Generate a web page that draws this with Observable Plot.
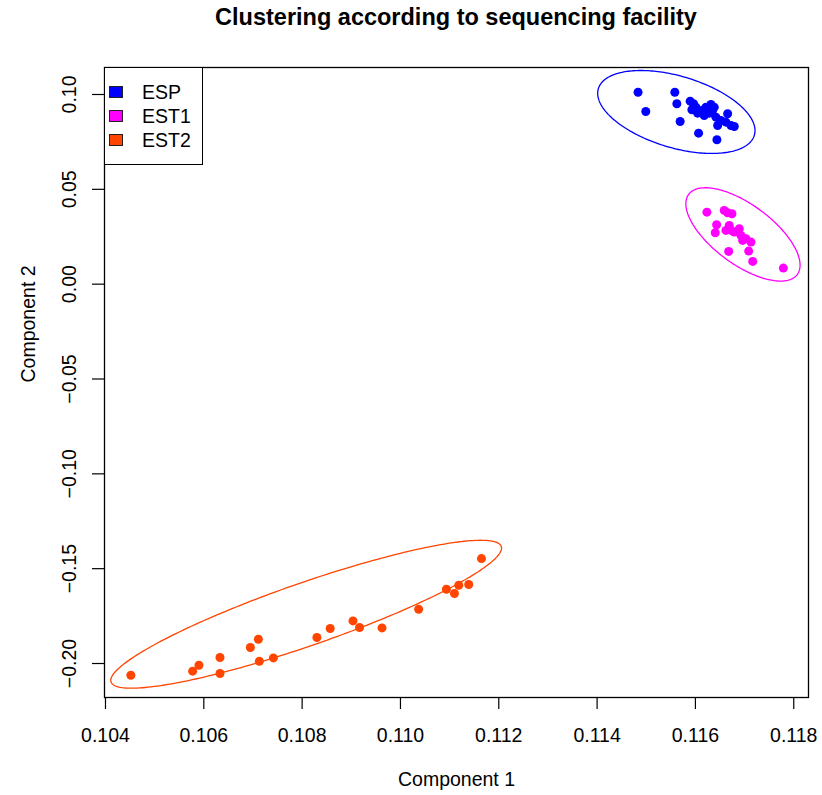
<!DOCTYPE html>
<html><head><meta charset="utf-8">
<script src="https://cdn.jsdelivr.net/npm/d3@7"></script>
<script src="https://cdn.jsdelivr.net/npm/@observablehq/plot@0.6"></script>
<style>
body{margin:0;background:#fff;font-family:"Liberation Sans",Arial,sans-serif;}
#wrap{position:relative;width:822px;height:795px;overflow:hidden;}
#title{height:36px;line-height:35px;margin-left:104px;width:704px;text-align:center;font-weight:bold;font-size:23.5px;color:#000;}
#legend{position:absolute;left:104px;top:67px;width:99px;height:98px;border:1.3px solid #000;box-sizing:border-box;background:#fff;padding-top:12px;}
.row{height:24px;display:flex;align-items:center;font-size:19.5px;color:#000;}
.sw{width:14px;height:12px;margin-left:4px;margin-right:19px;border:1px solid #222;box-sizing:border-box;}
</style></head>
<body><div id="wrap"><div id="title"></div><div id="chart"></div><div id="legend"></div></div>
<script>
const titleText = "Clustering according to sequencing facility";
const xLabel = "Component 1";
const yLabel = "Component 2";
const groups = ["ESP", "EST1", "EST2"];
const colors = ["#0000ff", "#ff00ff", "#ff4500"];
const xTicks = [0.104, 0.106, 0.108, 0.110, 0.112, 0.114, 0.116, 0.118];
const yTicks = [-0.20, -0.15, -0.10, -0.05, 0.00, 0.05, 0.10];
const xDomain = [0.10398, 0.11830];
const yDomain = [-0.21792, 0.11423];

const espX = [0.114833, 0.114990, 0.115581, 0.115622, 0.115689, 0.116064, 0.116437, 0.116655, 0.115893, 0.115962, 0.116010, 0.115928, 0.116044, 0.116132, 0.116213, 0.116315, 0.116382, 0.116350, 0.116281, 0.116178, 0.116417, 0.116519, 0.116452, 0.116621, 0.116723, 0.116790];
const espY = [0.10121, 0.09104, 0.10121, 0.09510, 0.08577, 0.07961, 0.07613, 0.08983, 0.09647, 0.09510, 0.09331, 0.09194, 0.09015, 0.09157, 0.09331, 0.09473, 0.09331, 0.09157, 0.09015, 0.08893, 0.08804, 0.08630, 0.08366, 0.08540, 0.08366, 0.08314];
const est1X = [0.116233, 0.116586, 0.116655, 0.116743, 0.116431, 0.116403, 0.116621, 0.116688, 0.116723, 0.116790, 0.116892, 0.116926, 0.117028, 0.117130, 0.116961, 0.116676, 0.117083, 0.117165, 0.117789];
const est1Y = [0.03798, 0.03887, 0.03766, 0.03713, 0.03134, 0.02712, 0.02833, 0.03097, 0.02833, 0.02744, 0.02923, 0.02570, 0.02396, 0.02217, 0.02306, 0.01727, 0.01743, 0.01200, 0.00847];
const est2X = [0.104516, 0.105773, 0.105901, 0.106329, 0.106329, 0.106947, 0.107110, 0.107130, 0.107416, 0.108300, 0.108571, 0.109034, 0.109168, 0.109625, 0.110370, 0.110935, 0.111098, 0.111186, 0.111389, 0.111648];
const est2Y = [-0.20616, -0.20405, -0.20089, -0.19684, -0.20527, -0.19157, -0.18719, -0.19878, -0.19704, -0.18630, -0.18155, -0.17755, -0.18103, -0.18124, -0.17138, -0.16084, -0.16311, -0.15873, -0.15837, -0.14467];

// cluster ellipses: centre, half-extent in x and y, and x-y correlation (data units)
const ellCx = [0.115612, 0.116967, 0.108082];
const ellCy = [0.090778, 0.026226, -0.174016];
const ellRx = [0.0016000, 0.0011616, 0.0039740];
const ellRy = [0.021869, 0.024609, 0.038995];
const ellRho = [-0.45, -0.657, 0.894];

const seriesX = [espX, est1X, est2X];
const seriesY = [espY, est1Y, est2Y];

const points = [];
groups.forEach((g, k) => seriesX[k].forEach((x, i) => points.push({group: g, x, y: seriesY[k][i]})));

const ellipses = [];
groups.forEach((g, k) => {
  const s = Math.sqrt(1 - ellRho[k] * ellRho[k]);
  d3.range(0, 241).forEach(j => {
    const t = j / 240 * 2 * Math.PI;
    ellipses.push({
      group: g,
      x: ellCx[k] + ellRx[k] * Math.cos(t),
      y: ellCy[k] + ellRy[k] * (ellRho[k] * Math.cos(t) + s * Math.sin(t))
    });
  });
});

document.getElementById("title").textContent = titleText;

const plot = Plot.plot({
  width: 822, height: 759,
  marginLeft: 104, marginRight: 14, marginTop: 31, marginBottom: 98,
  style: {fontFamily: "'Liberation Sans', Arial, sans-serif", fontSize: "19.5px", color: "#000", background: "#fff", overflow: "visible"},
  x: {domain: xDomain},
  y: {domain: yDomain},
  color: {domain: groups, range: colors},
  marks: [
    Plot.frame({stroke: "#000", strokeWidth: 1.3}),
    Plot.axisX(xTicks, {tickSize: 12, tickPadding: 18.5, tickFormat: d3.format(".3f"), label: null, strokeWidth: 1.2}),
    Plot.axisY(yTicks, {tickSize: 12, tickPadding: 17, tickRotate: -90, tickFormat: d3.format(".2f"), label: null, strokeWidth: 1.2}),
    Plot.line(ellipses, {x: "x", y: "y", z: "group", stroke: "group", strokeWidth: 1.3, curve: "linear"}),
    Plot.dot(points, {x: "x", y: "y", fill: "group", r: 4.5}),
    Plot.text([xLabel], {text: d => d, frameAnchor: "bottom", dy: 88, lineAnchor: "bottom"}),
    Plot.text([yLabel], {text: d => d, frameAnchor: "left", dx: -70, rotate: -90, lineAnchor: "bottom"})
  ]
});
document.getElementById("chart").appendChild(plot);

const legend = document.getElementById("legend");
groups.forEach((g, k) => {
  const row = document.createElement("div");
  row.className = "row";
  const sw = document.createElement("div");
  sw.className = "sw";
  sw.style.background = colors[k];
  const lab = document.createElement("span");
  lab.textContent = g;
  row.appendChild(sw); row.appendChild(lab);
  legend.appendChild(row);
});
</script>
</body></html>
